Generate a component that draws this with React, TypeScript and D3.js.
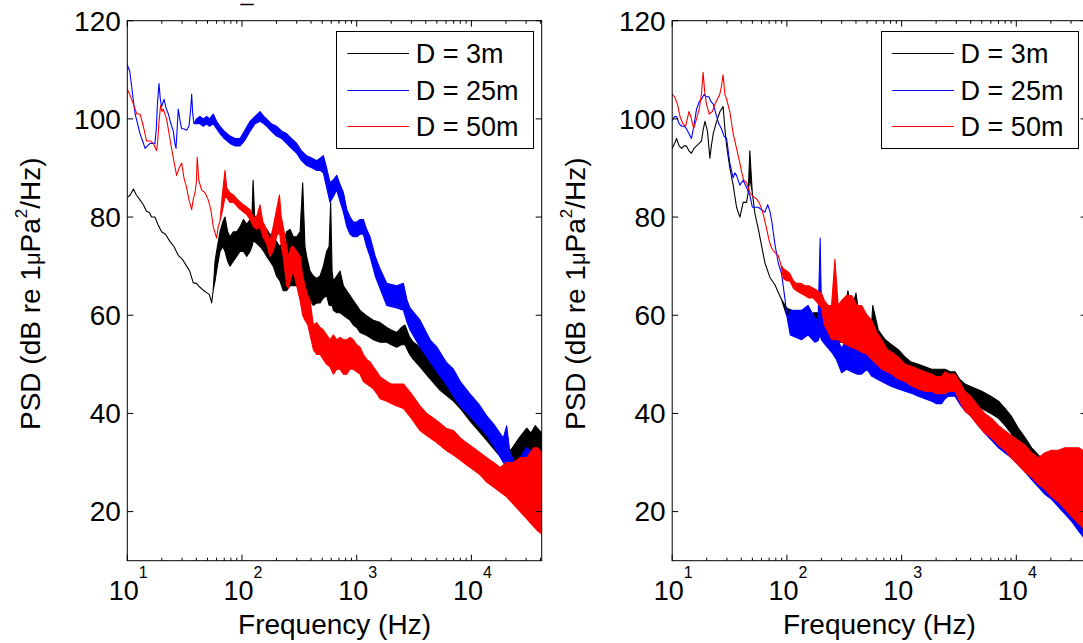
import React, { useRef, useEffect } from "react";
import * as d3 from "d3";

// PSD readings per series: [frequency (Hz), dB] where the trace is a thin line,
// [frequency (Hz), lower edge (dB), upper edge (dB)] where it is a noisy band
const left3m = [
  [10, 84], [10.6, 84.5], [11.3, 85.7], [12, 84.5], [12.9, 83.5],
  [13.8, 82.5], [14.7, 81.2], [15.5, 81], [16.3, 80], [17.4, 80],
  [18.5, 78.5], [19.9, 77], [21.5, 76.5], [23.6, 75], [25.5, 74],
  [27.8, 72.2], [30, 71.5], [32.9, 70], [35, 69], [37.6, 66.6],
  [40, 66.5], [43, 65.7], [46, 65.1], [49.9, 64.5], [52, 64.2],
  [54.4, 62.5], [56, 65], [58.2, 67, 71], [61, 70, 74], [64.3, 73, 77],
  [68, 74, 79], [71.1, 73, 80], [75, 71, 77], [78.6, 70, 76], [84, 71, 77],
  [89.8, 72, 77], [96, 73, 78], [103, 73, 79.5], [110, 72, 78.5], [117.5, 73, 79.5],
  [122, 74, 80], [125, 75, 87.5], [129, 75, 80], [143.6, 74, 80.5], [155, 73, 78],
  [164, 72, 77.5], [175, 71, 76.5], [187, 70, 76], [200, 68, 75], [214, 67, 74],
  [229, 65, 75], [245, 65, 77], [262, 66, 77.5], [280, 66, 76], [300, 66, 76],
  [321, 65, 77], [338, 66, 87], [354, 64, 74], [366, 64, 72], [392, 63, 69],
  [419, 62, 68], [448, 62.5, 67.5], [479, 62.5, 68], [512, 63.5, 70], [547, 64, 73],
  [575, 62, 74], [593, 62, 83], [610, 62, 69], [626, 61, 67], [670, 60.5, 68],
  [716, 60.5, 69], [766, 60, 66], [818, 59.5, 65], [875, 59, 64], [935, 58, 63],
  [1000, 57.5, 62], [1069, 56.5, 61], [1200, 56, 60], [1397, 55, 59], [1600, 54.5, 58.5],
  [1828, 54.5, 57.5], [2000, 54, 57], [2234, 53.5, 56.5], [2450, 54, 57.5], [2633, 54, 58],
  [2900, 52, 55.5], [3118, 51, 54.5], [3566, 49.5, 53.5], [4200, 47.5, 51.5], [5333, 44.7, 48.5],
  [6971, 42.5, 45.5], [8000, 41, 44], [9700, 38.5, 41.5], [11500, 36.5, 39.5], [13600, 34.5, 37.5],
  [16000, 32.5, 35.5], [19000, 30.5, 33.5], [22000, 29, 32.5], [26000, 29, 35], [30400, 30, 37],
  [33000, 29, 36], [36000, 30, 37.5], [41000, 30, 36],
];

const left25m = [
  [10, 111], [10.5, 109.7], [10.9, 106.7], [11.3, 103.7], [11.7, 101],
  [12.3, 99], [12.9, 97], [13.6, 95.5], [14.3, 94], [15, 94.5],
  [15.8, 95], [16.5, 95], [17.4, 95], [17.9, 98], [18.3, 103],
  [18.9, 107.2], [19.4, 104], [19.9, 102.5], [20.9, 104], [21.8, 102.2],
  [22.8, 101], [24, 99], [25.2, 97.5], [26, 95], [26.6, 94],
  [27.2, 98], [27.8, 102], [28.8, 99.7], [29.8, 98], [31, 98],
  [32.9, 97.7], [34.5, 98.5], [35.7, 102], [36.4, 105], [37.2, 101],
  [38.1, 99], [40, 99, 100], [43, 99, 100.5], [46, 98.5, 100], [49.2, 99, 100.5],
  [52, 98.5, 100], [56.2, 99, 101], [60, 98, 99.5], [64.3, 97, 98.5], [70, 96, 97.5],
  [78.6, 95, 96.5], [87, 94.5, 96], [96.1, 94.5, 96], [105, 95.5, 97.5], [117.5, 97.5, 99.5],
  [130, 99, 100.5], [143.6, 99.5, 101.5], [155, 99, 100.5], [164, 98.5, 100], [180, 97.5, 99],
  [200, 96.5, 98.5], [222, 96, 97.5], [245, 95, 97], [270, 94, 96], [300, 93, 95],
  [330, 91.5, 93.5], [366, 90.5, 92.5], [410, 90, 92], [448, 89.5, 91.5], [480, 89.5, 92],
  [512, 89, 92.5], [547, 86, 90], [585, 83, 87], [620, 84, 87.5], [670, 85.5, 88.5],
  [720, 83, 86.5], [766, 81, 85], [820, 78, 81.5], [875, 76.5, 80], [935, 76, 79],
  [1000, 76, 79], [1070, 76.5, 79.5], [1143, 76.5, 79.5], [1220, 74, 77.5], [1306, 72, 76],
  [1450, 68, 72], [1596, 65.5, 69.5], [1828, 62, 66.5], [2234, 61.5, 66], [2553, 61, 66.5],
  [2750, 58.5, 63], [2918, 57, 61.5], [3566, 53.5, 59], [4363, 50.5, 55], [5000, 48.5, 53.5],
  [6000, 46, 50.5], [6971, 43.5, 49], [8000, 41.5, 46.5], [9700, 39.5, 44], [11500, 37.5, 42],
  [13600, 35.5, 39.5], [16000, 33, 37.5], [19000, 30, 35], [20300, 29, 37.5], [21700, 28, 32],
  [24000, 26, 30], [26600, 22.5, 31], [30000, 27, 33], [35000, 26, 32], [41000, 26, 32],
];

const left50m = [
  [10, 106], [10.5, 105], [11.3, 103], [12.1, 101], [12.9, 101],
  [13.8, 98.5], [14.7, 95.5], [15.8, 95.5], [16.9, 95], [18, 93.5],
  [18.5, 96], [18.9, 99.5], [19.5, 102.7], [20.1, 101.5], [20.6, 102],
  [22, 100], [23.5, 96], [25.2, 92], [26.9, 88.5], [28.3, 90],
  [29.8, 91], [31.2, 88], [32.9, 86], [34.5, 83.5], [36.4, 81.5],
  [37.5, 83.5], [38.9, 85], [40, 87], [40.7, 92.2], [42, 87.5],
  [44.5, 85.5], [47.5, 85], [50.8, 83.5], [53.5, 81.5], [56.2, 78],
  [60.1, 75.7], [62, 78], [64.3, 79.2], [67, 81, 84], [71.1, 84, 89.5],
  [73.5, 84, 86], [78, 83, 85], [84, 83, 84.5], [92, 82, 83.5], [103, 81, 82.5],
  [110, 80.5, 82], [117.5, 79.5, 81.5], [126, 78, 80], [134, 77.5, 80], [143.6, 78, 82.5],
  [152, 76, 79], [164, 74.5, 77.5], [175, 72, 75], [187, 73, 78], [200, 76, 81.5],
  [212, 77, 84.5], [220, 74, 80], [229, 72, 78], [245, 66, 74], [254, 65.5, 72],
  [270, 68, 74], [280, 69, 74], [300, 66, 73], [321, 63, 72], [338, 60, 68],
  [354, 59, 66], [375, 58, 64], [392, 56, 63], [419, 53, 58], [448, 52, 58.5],
  [479, 52, 57.5], [512, 51, 57], [547, 50, 56], [585, 49.5, 55], [626, 48, 56],
  [670, 49, 55], [716, 49, 55.5], [766, 48, 55], [818, 48, 55], [875, 49, 55.5],
  [935, 49, 55], [1000, 48.5, 54], [1069, 48, 53.5], [1143, 46.5, 52], [1222, 46, 51],
  [1306, 45.5, 50.5], [1397, 45, 49.5], [1500, 44, 48.5], [1596, 43, 47.5], [1828, 42.5, 46.5],
  [2000, 42, 46], [2234, 41.5, 46], [2553, 41, 46], [3000, 39, 44], [3566, 36.5, 41.5],
  [4074, 35.5, 40], [4700, 34.5, 39], [5333, 33.5, 38], [6000, 32.5, 37], [6971, 31.5, 36.5],
  [8000, 30.5, 35], [9099, 29.5, 34], [10400, 28.5, 33], [11900, 27.5, 32], [13600, 26, 31],
  [15600, 25, 30], [17800, 24, 29], [20300, 23, 30], [23200, 21.5, 30], [26600, 20, 31],
  [30400, 18.5, 31], [34800, 17, 33], [38000, 16, 33], [41000, 15.5, 32],
];

const right3m = [
  [10, 94], [10.5, 95], [10.9, 96], [11.5, 94.5], [12.1, 94],
  [12.7, 94.5], [13.3, 94.5], [14, 93.5], [14.7, 93], [15.5, 94],
  [16.3, 94.5], [17.2, 95], [18, 95.5], [18.6, 97.7], [19.3, 99.5],
  [20.3, 97.5], [21.3, 92], [22, 94.7], [22.8, 97], [24.4, 99.5],
  [26.1, 101.5], [27.8, 102.5], [28.8, 98], [29.8, 94.5], [31.8, 90],
  [34, 86.5], [36.4, 82], [38.9, 80], [41.6, 83], [44.5, 83],
  [46, 85], [47.5, 88, 93.5], [49.9, 85], [52.6, 80.7], [56.2, 77.7],
  [60.1, 74.2], [64.3, 70.7], [71.1, 67.7], [78.6, 66.2], [84, 64.7],
  [89.8, 63.2], [99.3, 60, 61.5], [110, 59, 61], [125.6, 57.5, 59.5], [140, 57, 59],
  [153, 56.5, 59], [170, 57, 60.5], [187, 57.5, 60.5], [200, 56.5, 60], [214, 56, 59.5],
  [245, 55.5, 59], [280, 54.5, 58.5], [320, 54.5, 60], [340, 54.5, 65], [366, 54, 61],
  [400, 55, 64.5], [420, 54, 61], [479, 54, 60], [547, 53, 58], [560, 53, 62],
  [626, 52.5, 57], [720, 51.5, 55], [818, 50.5, 54], [935, 49, 53], [1069, 48.5, 51.5],
  [1200, 47.5, 50.5], [1397, 47, 50], [1600, 46.5, 49.5], [1828, 46, 49], [2100, 46, 49],
  [2388, 46, 49], [2650, 45.5, 48.5], [2918, 45.5, 48.5], [3200, 44, 47], [3566, 43, 46],
  [4000, 42.5, 45.5], [5000, 41, 44.5], [6000, 40, 43.5], [7000, 39, 42.5], [8000, 37.5, 41],
  [9000, 36, 39.5], [10400, 32.5, 37], [12000, 30.5, 35], [13600, 29, 33], [15600, 27.5, 31.5],
  [17800, 26, 30], [20300, 26.5, 30], [23200, 25.5, 28.5], [26600, 24, 27.5], [30400, 22.5, 26],
  [35000, 21, 24.5], [41000, 19.5, 23],
];

const right25m = [
  [10, 99.7], [10.5, 100.5], [10.9, 100.5], [11.5, 99], [12.1, 98.5],
  [12.7, 98.5], [13.3, 98], [14, 97], [14.7, 96], [15.5, 98.7],
  [16.3, 102], [17.2, 103.5], [18, 104], [19, 105], [19.9, 104.5],
  [20.9, 104.5], [21.8, 103.5], [22.8, 103], [24.4, 100.5], [25.5, 99],
  [26.9, 98], [28.3, 96.5], [29.8, 96], [31.8, 91], [34, 88],
  [35.2, 89], [36.4, 88.5], [38.9, 86.5], [41.5, 87.5], [44.5, 86],
  [47.5, 84.5], [50, 82], [53.5, 82], [56.2, 82], [60, 81.5],
  [64.3, 81], [68, 82.5], [71, 81.2], [74, 79], [78.6, 74.5],
  [84, 70.7], [89.8, 68.5], [96, 63.5], [101, 59.2], [107, 56, 61],
  [134, 55, 61], [153, 56, 62], [175, 54.5, 59.5], [187, 54.8, 59], [195, 56, 75.7],
  [200, 55, 61], [207, 54.5, 59.5], [225, 53.5, 58], [245, 52.5, 56.5], [270, 51, 55.5],
  [300, 48.3, 53.3], [330, 49, 55], [366, 48.5, 54.5], [410, 48, 54], [448, 48, 53.5],
  [500, 49, 55], [547, 47.6, 54], [610, 47, 52], [670, 46.5, 51], [740, 46, 50.5],
  [818, 45.5, 50], [935, 45, 49], [1069, 44.5, 48.5], [1250, 44, 47.5], [1397, 43.5, 47],
  [1600, 43, 46.5], [1828, 42.5, 46], [2000, 42, 46], [2234, 42, 45.5], [2388, 43, 46],
  [2553, 43.5, 47.5], [2918, 43.5, 47.5], [3200, 42, 46], [3566, 40.5, 44], [4000, 39.5, 43],
  [4664, 37.5, 41], [5300, 36, 39.5], [6095, 34.5, 38], [7000, 33, 37], [7962, 32, 35.5],
  [9000, 31, 34.5], [10400, 29.5, 33], [12000, 28, 31.5], [13600, 26.5, 30], [15600, 25, 28.5],
  [17800, 23.5, 27], [20300, 22.5, 26], [23200, 21, 24.5], [26600, 19.5, 23.5], [30400, 18, 22],
  [35000, 16, 20.5], [41000, 14, 19],
];

const right50m = [
  [10, 105], [10.5, 104.5], [11.1, 103], [11.7, 100.5], [12.4, 99],
  [13.1, 98.5], [14, 101.5], [14.7, 100], [15.4, 98], [16.3, 100],
  [17.2, 102], [18, 105.2], [18.6, 109.5], [19.2, 105.5], [19.9, 103],
  [21, 101], [22.4, 101.5], [23.6, 103], [24.8, 104], [26, 105],
  [26.9, 106.7], [27.8, 109], [28.8, 105], [29.8, 104], [31.8, 101.5],
  [33, 99], [34, 97], [36.4, 94], [38.9, 91], [40.5, 89],
  [42, 87.5], [44.5, 87], [47.5, 85], [50.8, 84.2], [54.4, 83.7],
  [58, 82.7], [62, 80.7], [66.5, 77.7], [70, 75.2], [73.5, 73.7],
  [79, 72.7], [84, 72.2], [89, 70.2], [93, 67.5, 69.5], [100, 67, 69],
  [106, 67, 68.5], [114, 65.5, 67], [121, 65, 66.5], [132, 64.5, 66.5], [143.6, 64, 66],
  [155, 63.5, 66], [170, 63.5, 65.5], [185, 62.5, 65], [200, 61.5, 64.5], [212, 58, 63],
  [229, 56.5, 62], [245, 55, 62], [262, 55, 71.4], [280, 55, 62], [300, 54.5, 63],
  [330, 54, 64], [366, 53.5, 64], [410, 53, 62], [448, 52.5, 62], [500, 52, 60],
  [547, 51, 59], [610, 50, 56.5], [670, 49, 55], [750, 48.5, 53], [818, 48, 52.5],
  [935, 47, 51.5], [1069, 46.5, 50], [1250, 45.5, 49.5], [1397, 45, 49], [1600, 44.5, 48.5],
  [1828, 44.5, 48], [2000, 44, 47.5], [2234, 44, 47.5], [2388, 44, 48.5], [2600, 44.5, 48],
  [2918, 44.5, 48], [3200, 42.5, 46.5], [3566, 40.5, 44.5], [4000, 39.5, 43.5], [4664, 37.5, 41.5],
  [5300, 36, 40], [6095, 35, 39], [7000, 33.5, 37.5], [7962, 32.5, 36.5], [9000, 31, 35.5],
  [10400, 29.5, 34.5], [12000, 28, 33.5], [13600, 27, 32], [15600, 25.5, 31], [17800, 24.5, 32],
  [20300, 23, 32.5], [23200, 22, 32.5], [26600, 20.5, 33], [30400, 19, 33], [35000, 17.5, 33],
  [41000, 16, 32],
];

const seriesNames = ["D = 3m", "D = 25m", "D = 50m"];
const seriesColors = ["#000000", "#0000ff", "#ff0000"];
const yTickValues = [20, 40, 60, 80, 100, 120];
const xDomain = [10, 41000];
const yDomain = [10, 120];

const FONT = "'Liberation Sans', Arial, Helvetica, sans-serif";

const App = () => {
  const svgRef = useRef(null);

  useEffect(() => {
    const svg = d3.select(svgRef.current);
    svg.selectAll("*").remove();

    const top = 20.7;
    const bottom = 560.7;
    const width = 414.4;
    const majorLen = 6;
    const minorLen = 3;

    // cut-off title glyph at the very top of the left panel
    svg
      .append("text")
      .attr("x", 241.5)
      .attr("y", 6)
      .attr("font-family", FONT)
      .attr("font-size", 7)
      .attr("textLength", 11)
      .attr("lengthAdjust", "spacingAndGlyphs")
      .attr("stroke", "#000")
      .attr("stroke-width", 0.9)
      .text("–");

    const panels = [
      { left: 127.3, series: [left3m, left25m, left50m] },
      { left: 672.2, series: [right3m, right25m, right50m] },
    ];

    panels.forEach((p, pi) => {
      const right = p.left + width;
      const x = d3.scaleLog().domain(xDomain).range([p.left, right]);
      const y = d3.scaleLinear().domain(yDomain).range([bottom, top]);
      const g = svg.append("g");

      const clipId = `clip-${pi}`;
      g.append("clipPath")
        .attr("id", clipId)
        .append("rect")
        .attr("x", p.left)
        .attr("y", top)
        .attr("width", width)
        .attr("height", bottom - top);

      const area = d3
        .area()
        .x((d) => x(d[0]))
        .y0((d) => y(d[1]))
        .y1((d) => y(d.length > 2 ? d[2] : d[1]));

      const plot = g.append("g").attr("clip-path", `url(#${clipId})`);
      p.series.forEach((s, i) => {
        plot
          .append("path")
          .datum(s)
          .attr("d", area)
          .attr("fill", seriesColors[i])
          .attr("stroke", seriesColors[i])
          .attr("stroke-width", 1.1)
          .attr("stroke-linejoin", "round");
      });

      // axes box
      g.append("rect")
        .attr("x", p.left)
        .attr("y", top)
        .attr("width", width)
        .attr("height", bottom - top)
        .attr("fill", "none")
        .attr("stroke", "#000")
        .attr("stroke-width", 1);

      // x ticks (log, inward on top and bottom)
      const xt = x.ticks();
      const isMajor = (v) => Math.abs(Math.log10(v) - Math.round(Math.log10(v))) < 1e-9;
      xt.forEach((v) => {
        const len = isMajor(v) ? majorLen : minorLen;
        const xx = x(v);
        g.append("line").attr("x1", xx).attr("x2", xx).attr("y1", bottom).attr("y2", bottom - len).attr("stroke", "#000");
        g.append("line").attr("x1", xx).attr("x2", xx).attr("y1", top).attr("y2", top + len).attr("stroke", "#000");
      });
      xt.filter(isMajor).forEach((v) => {
        const t = g
          .append("text")
          .attr("x", x(v) + 1)
          .attr("y", 600)
          .attr("text-anchor", "middle")
          .attr("font-family", FONT)
          .attr("font-size", 27);
        t.append("tspan").text("10");
        t.append("tspan").attr("dy", -22).attr("font-size", 16).text(String(Math.round(Math.log10(v))));
      });

      // y ticks
      yTickValues.forEach((v) => {
        const yy = y(v);
        g.append("line").attr("x1", p.left).attr("x2", p.left + majorLen).attr("y1", yy).attr("y2", yy).attr("stroke", "#000");
        g.append("line").attr("x1", right).attr("x2", right - majorLen).attr("y1", yy).attr("y2", yy).attr("stroke", "#000");
        g.append("text")
          .attr("x", p.left - 6.5)
          .attr("y", yy + 9.8)
          .attr("text-anchor", "end")
          .attr("font-family", FONT)
          .attr("font-size", 28)
          .text(v);
      });

      // axis labels
      g.append("text")
        .attr("x", (p.left + right) / 2)
        .attr("y", 634)
        .attr("text-anchor", "middle")
        .attr("font-family", FONT)
        .attr("font-size", 28)
        .text("Frequency (Hz)");

      const yl = g
        .append("text")
        .attr("transform", `translate(${p.left - 87},${(top + bottom) / 2 + 3}) rotate(-90)`)
        .attr("text-anchor", "middle")
        .attr("font-family", FONT)
        .attr("font-size", 28);
      yl.append("tspan").text("PSD (dB re 1");
      yl.append("tspan").attr("font-size", 22).text("μ");
      yl.append("tspan").text("Pa");
      yl.append("tspan").attr("font-size", 17).attr("dy", -13).text("2");
      yl.append("tspan").attr("dy", 13).text("/Hz)");

      // legend
      const lx = p.left + 208.4;
      const ly = top + 10.3;
      const legend = g.append("g");
      legend
        .append("rect")
        .attr("x", Math.round(lx) + 0.5)
        .attr("y", Math.round(ly) + 0.5)
        .attr("width", 197)
        .attr("height", 117)
        .attr("fill", "#fff")
        .attr("stroke", "#000")
        .attr("stroke-width", 1);
      seriesNames.forEach((name, i) => {
        const ry = Math.round(ly + 22.3 + i * 36.5) + 0.5;
        legend
          .append("line")
          .attr("x1", lx + 11.6)
          .attr("x2", lx + 73.3)
          .attr("y1", ry)
          .attr("y2", ry)
          .attr("stroke", seriesColors[i])
          .attr("stroke-width", 1);
        legend
          .append("text")
          .attr("x", lx + 80)
          .attr("y", ry + 9.5)
          .attr("font-family", FONT)
          .attr("font-size", 27)
          .text(name);
      });
    });
  }, []);

  return (
    <div style={{ position: "absolute", left: 0, top: 0, background: "#fff" }}>
      <svg ref={svgRef} width={1083} height={643} style={{ display: "block" }} />
    </div>
  );
};

export default App;
